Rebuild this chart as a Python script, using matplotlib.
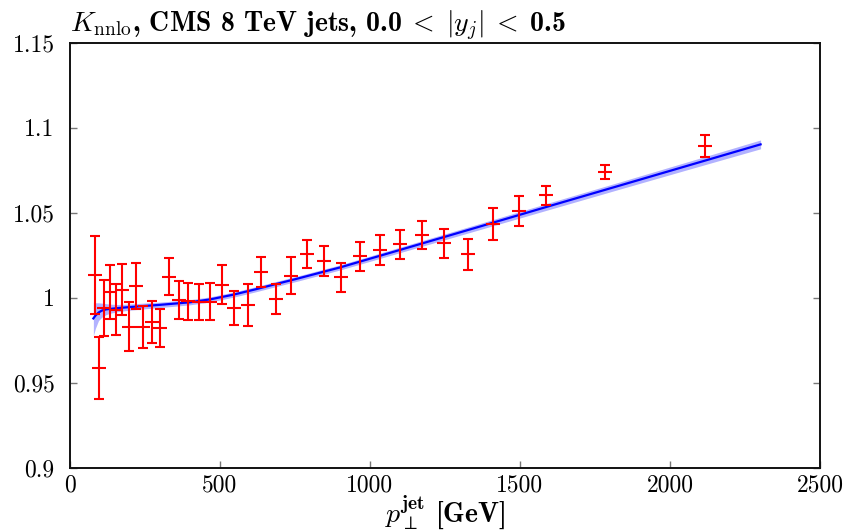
import numpy as np
import matplotlib
matplotlib.use("Agg")
import matplotlib.pyplot as plt

plt.rcParams['font.family'] = ['cmr10', 'DejaVu Serif']
plt.rcParams['mathtext.fontset'] = 'cm'
plt.rcParams['axes.formatter.use_mathtext'] = True

# data points (lower bin edge of pT, K factor, error)
pt = [84, 97, 114, 133, 153, 174, 196, 220, 245, 272, 300, 330, 362, 395,
      430, 468, 507, 548, 592, 638, 686, 737, 790, 846, 905, 967, 1032,
      1101, 1172, 1248, 1327, 1410, 1497, 1588, 1784, 2116]
kval = [1.0135, 0.9586, 0.9940, 1.0035, 0.9928, 1.0047, 0.9830, 1.0067,
        0.9828, 0.9855, 0.9822, 1.0124, 0.9986, 0.9978, 0.9975, 0.9976,
        1.0076, 0.9939, 0.9956, 1.0152, 0.9993, 1.0129, 1.0258, 1.0214,
        1.0119, 1.0243, 1.0282, 1.0314, 1.0367, 1.0319, 1.0255, 1.0433,
        1.0508, 1.0602, 1.0740, 1.0892]
kerr = [0.023, 0.018, 0.0165, 0.016, 0.015, 0.015, 0.0144, 0.0136,
        0.0125, 0.0124, 0.011, 0.011, 0.011, 0.0108, 0.0106, 0.0108,
        0.0114, 0.0099, 0.0125, 0.009, 0.0086, 0.011, 0.0083, 0.0088,
        0.0085, 0.0084, 0.0088, 0.0086, 0.0083, 0.0086, 0.0092, 0.0092,
        0.0088, 0.0054, 0.0041, 0.0063]

# fitted curve and its band
fit_x = [78, 85, 95, 106, 120, 133, 160, 200, 300, 400, 467, 545, 620, 686,
         760, 833, 900, 1100, 1367, 1600, 1833, 2050, 2302]
fit_y = [0.9878, 0.9895, 0.9912, 0.9924, 0.9931, 0.9934, 0.9939, 0.9945,
         0.9958, 0.9973, 0.9990, 1.0018, 1.0050, 1.0080, 1.0113, 1.0147,
         1.0178, 1.0281, 1.0419, 1.0540, 1.0660, 1.0772, 1.0902]
band_lo = [0.9776, 0.9820, 0.9865, 0.9885, 0.9900, 0.9908, 0.9918, 0.9927,
           0.9942, 0.9958, 0.9975, 1.0003, 1.0035, 1.0065, 1.0098, 1.0132,
           1.0163, 1.0265, 1.0401, 1.0520, 1.0639, 1.0749, 1.0876]
band_hi = [0.9973, 0.9970, 0.9970, 0.9968, 0.9965, 0.9962, 0.9960, 0.9963,
           0.9974, 0.9988, 1.0005, 1.0033, 1.0065, 1.0095, 1.0128, 1.0162,
           1.0193, 1.0297, 1.0437, 1.0560, 1.0681, 1.0795, 1.0928]

yticks = [0.9, 0.95, 1.0, 1.05, 1.1, 1.15]
ytick_labels = ['0.9', '0.95', '1', '1.05', '1.1', '1.15']
xticks = [0, 500, 1000, 1500, 2000, 2500]

fig = plt.figure(figsize=(8.45, 5.32), dpi=100)
ax = fig.add_axes([0.0828, 0.1209, 0.8876, 0.7988])

ax.fill_between(fit_x, band_lo, band_hi, color='#0000ff', alpha=0.3,
                linewidth=0)
ax.plot(fit_x, fit_y, color='#0000ff', lw=1.6)
ax.errorbar(pt, kval, yerr=kerr, fmt='_', color='#ff0000', ms=10,
            mew=1.5, elinewidth=1.5, capsize=3.5, capthick=1.5)

ax.set_xlim(0, 2500)
ax.set_ylim(0.9, 1.15)
ax.set_xticks(xticks)
ax.set_xticklabels([str(x) for x in xticks])
ax.set_yticks(yticks)
ax.set_yticklabels(ytick_labels)
ax.tick_params(direction='in', length=5, width=1, color='#777777',
               labelsize=17, right=True, top=False)
ax.tick_params(axis='y', pad=11)
ax.tick_params(axis='x', pad=5)
for s in ax.spines.values():
    s.set_linewidth(1.4)
    s.set_color('#111111')

ax.set_title(r"$K_{\rm nnlo}$, CMS 8 TeV jets, 0.0$\;<\;|y_j|\;<\;$0.5",
             loc='left', fontsize=20, family='cmb10', pad=4)
ax.set_xlabel(r"$p_{\perp}^{\mathbf{jet}}$ [GeV]", fontsize=20,
              family='cmb10', labelpad=-2)

fig.savefig("out.png", dpi=100)
